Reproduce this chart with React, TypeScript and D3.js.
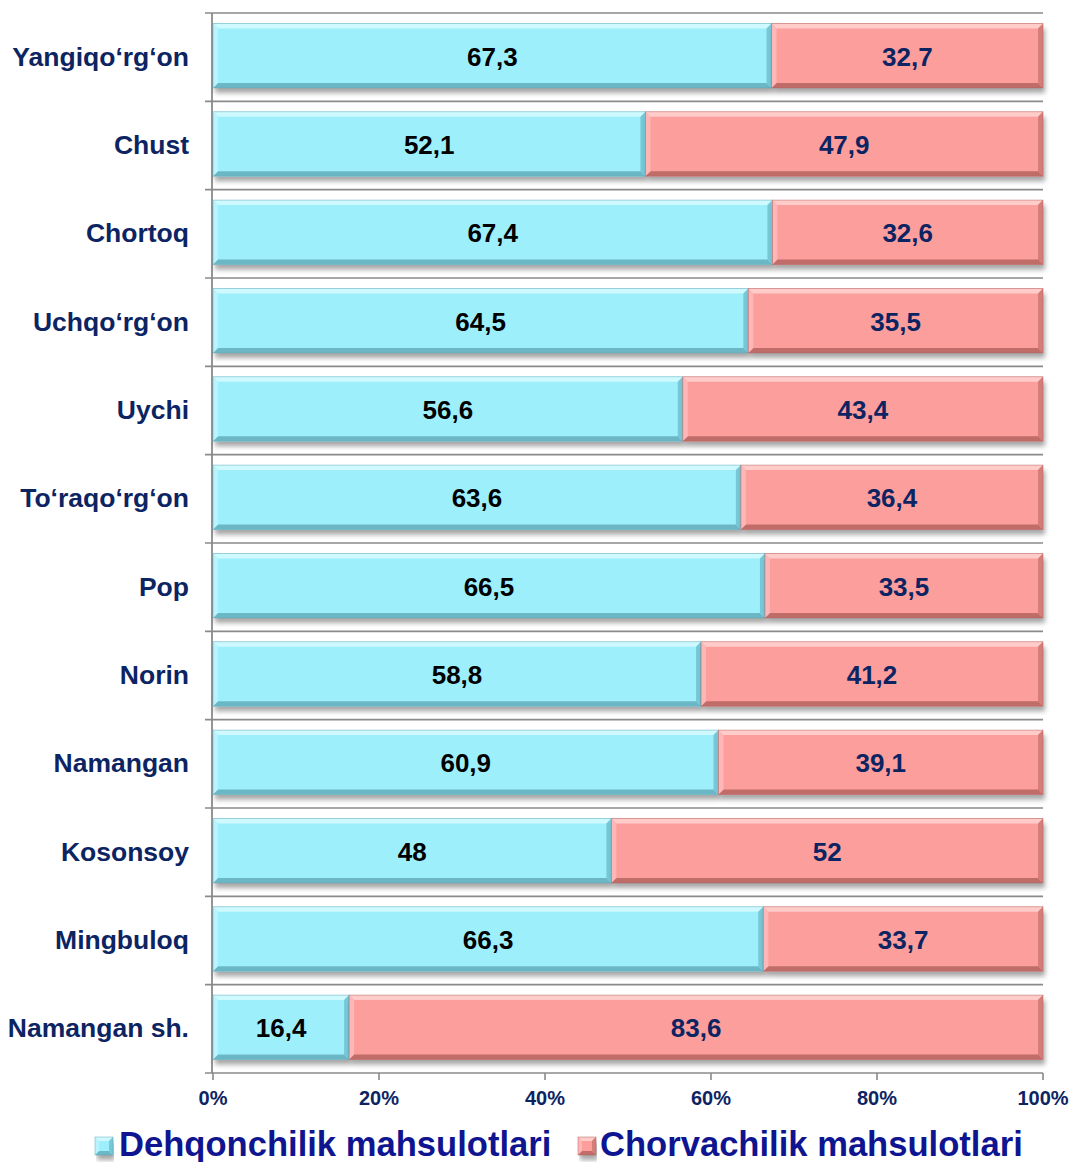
import React from "react";
import * as d3 from "d3";

const categories = [
  "Yangiqo‘rg‘on", "Chust", "Chortoq", "Uchqo‘rg‘on", "Uychi", "To‘raqo‘rg‘on",
  "Pop", "Norin", "Namangan", "Kosonsoy", "Mingbuloq", "Namangan sh.",
];
const dehqon = [67.3, 52.1, 67.4, 64.5, 56.6, 63.6, 66.5, 58.8, 60.9, 48, 66.3, 16.4];
const chorva = [32.7, 47.9, 32.6, 35.5, 43.4, 36.4, 33.5, 41.2, 39.1, 52, 33.7, 83.6];
const xTicks = [0, 20, 40, 60, 80, 100];
const seriesNames = ["Dehqonchilik mahsulotlari", "Chorvachilik mahsulotlari"];

const W = 1073, H = 1162;
const left = 213, right = 1043, top = 13, bottom = 1073;

const fmt = (v: number) => String(v).replace(".", ",");

const pal = [
  { main: "#9eeffc", light: "#d2f9ff", dark: "#5fa9b8", side: "#72c3d3", text: "#000000" },
  { main: "#fc9e9c", light: "#ffd0cf", dark: "#b0605e", side: "#d07977", text: "#0d2463" },
];

function Bevel({ x, y, w, h, c, b0 = 5 }: { x: number; y: number; w: number; h: number; c: typeof pal[0]; b0?: number }) {
  const b = Math.min(b0, w / 2);
  return (
    <g>
      <rect x={x} y={y} width={w} height={h} fill={c.main} filter="url(#shadow)" />
      <polygon points={`${x},${y} ${x + w},${y} ${x + w - b},${y + b} ${x + b},${y + b}`} fill={c.light} opacity={0.9} />
      <polygon points={`${x},${y + h} ${x + w},${y + h} ${x + w - b},${y + h - b} ${x + b},${y + h - b}`} fill={c.dark} opacity={0.8} />
      <polygon points={`${x},${y} ${x + b},${y + b} ${x + b},${y + h - b} ${x},${y + h}`} fill={c.light} opacity={0.5} />
      <polygon points={`${x + w},${y} ${x + w - b},${y + b} ${x + w - b},${y + h - b} ${x + w},${y + h}`} fill={c.side} opacity={0.9} />
      <rect x={x} y={y} width={w} height={h} fill="none" stroke={c.dark} strokeWidth={0.8} opacity={0.6} />
    </g>
  );
}

export default function App() {
  const x = d3.scaleLinear().domain([0, 100]).range([left, right]);
  const y = d3.scaleBand<string>().domain(categories).range([top, bottom]).paddingInner(0.27).paddingOuter(0.135);
  const step = y.step();
  const font = "Arial, 'Liberation Sans', sans-serif";
  const navy = "#0d2463";

  return (
    <svg width={W} height={H} style={{ position: "absolute", left: 0, top: 0, background: "#fff" }} fontFamily={font}>
      <defs>
        <filter id="shadow" x="-5%" y="-20%" width="110%" height="160%">
          <feGaussianBlur in="SourceAlpha" stdDeviation="2.5" />
          <feOffset dx="2" dy="5" result="b" />
          <feComponentTransfer><feFuncA type="linear" slope="0.35" /></feComponentTransfer>
          <feMerge><feMergeNode /><feMergeNode in="SourceGraphic" /></feMerge>
        </filter>
      </defs>
      {d3.range(categories.length + 1).map((i) => {
        const yy = top + i * step;
        return <line key={i} x1={205} x2={right} y1={yy} y2={yy} stroke="#8a8a8a" strokeWidth={1.6} />;
      })}
      <line x1={212} x2={212} y1={top} y2={bottom} stroke="#8a8a8a" strokeWidth={1.8} />
      {xTicks.map((t) => (
        <g key={t}>
          <line x1={x(t)} x2={x(t)} y1={bottom} y2={bottom + 7} stroke="#8a8a8a" strokeWidth={1.6} />
          <text x={x(t)} y={1105} textAnchor="middle" fontSize={20} fontWeight="bold" fill={navy}>{t}%</text>
        </g>
      ))}
      {categories.map((c, i) => {
        const by = (y(c) as number) - 1.5;
        const bh = y.bandwidth();
        const x0 = x(0), x1 = x(dehqon[i]), x2 = x(dehqon[i] + chorva[i]);
        const cy = by + bh / 2 + 1;
        return (
          <g key={c}>
            <Bevel x={x0} y={by} w={x1 - x0} h={bh} c={pal[0]} />
            <Bevel x={x1} y={by} w={x2 - x1} h={bh} c={pal[1]} />
            <text x={(x0 + x1) / 2} y={cy} dominantBaseline="central" textAnchor="middle" fontSize={26} fontWeight="bold" fill={pal[0].text}>{fmt(dehqon[i])}</text>
            <text x={(x1 + x2) / 2} y={cy} dominantBaseline="central" textAnchor="middle" fontSize={26} fontWeight="bold" fill={pal[1].text}>{fmt(chorva[i])}</text>
            <text x={189} y={cy} dominantBaseline="central" textAnchor="end" fontSize={26.5} fontWeight="bold" fill={navy}>{c}</text>
          </g>
        );
      })}
      {[{ sx: 95, tx: 119 }, { sx: 578, tx: 600 }].map((p, i) => (
        <g key={i}>
          <Bevel x={p.sx} y={1137} w={18} h={18} c={pal[i]} b0={4} />
          <text x={p.tx} y={1156} fontSize={34.6} fontWeight="bold" fill="#0f1590">{seriesNames[i]}</text>
        </g>
      ))}
    </svg>
  );
}
